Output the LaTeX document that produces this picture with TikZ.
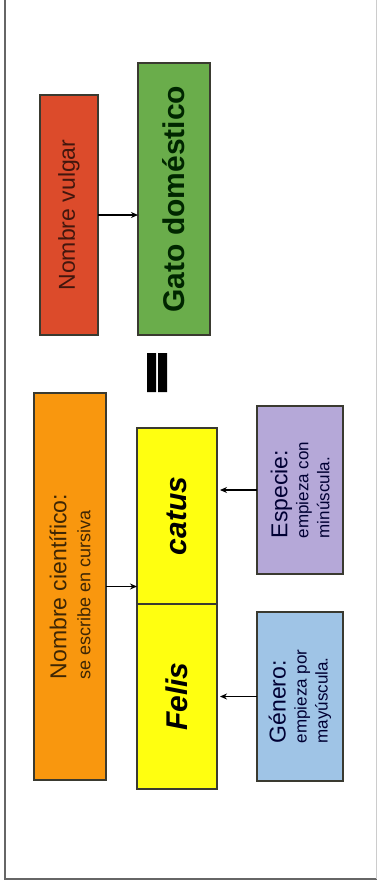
\documentclass[tikz,border=0pt]{standalone}
\usepackage{fontspec}
\setmainfont{Liberation Sans}
\usetikzlibrary{arrows.meta}
\definecolor{cred}{HTML}{DC4B2B}
\definecolor{cgreen}{HTML}{6AAD4B}
\definecolor{corange}{HTML}{F9970E}
\definecolor{cyellow}{HTML}{FFFF10}
\definecolor{cpurple}{HTML}{B5A8D8}
\definecolor{cblue}{HTML}{9FC4E6}
\definecolor{edge}{HTML}{3A3A30}
\newcommand{\fs}[2]{\fontsize{#1}{#2}\selectfont}
\tikzset{
  box/.style={draw=edge, line width=1.4pt, rotate=90, inner sep=0pt, outer sep=0pt, align=left},
  conn/.style={draw=black, line width=1.1pt, -{Stealth[length=7pt,width=6pt]}},
}
\begin{document}
\begin{tikzpicture}[x=1pt,y=-1pt]
\useasboundingbox (0,0) rectangle (377,892);
\fill[white] (0,0) rectangle (377,892);
% frame
\draw[line width=2pt, color=black!60] (5,0) -- (5,879) -- (377,879);
\draw[line width=0.8pt, color=black!20] (376,0) -- (376,879);
% boxes
\node[box, fill=cred, minimum width=240pt, minimum height=58pt, text=cred!30!black, font=\fs{23}{27}] (vulgar) at (69,215) {Nombre vulgar};
\node[box, fill=cgreen, minimum width=272pt, minimum height=72pt, text=black!85!green, font=\fs{30}{34}\bfseries] (gato) at (174,199) {Gato doméstico};
\node[box, fill=corange, minimum width=387pt, minimum height=72pt, text=corange!25!black, font=\fs{18}{24}] (cient) at (70,586.5) {{\fs{23}{27}Nombre científico:}\\se escribe en cursiva};
\node[box, fill=cyellow, minimum width=176pt, minimum height=80pt, text=black, font=\fs{30}{34}\bfseries\itshape] (catus) at (177,516) {catus};
\node[box, fill=cyellow, minimum width=185pt, minimum height=80pt, text=black, font=\fs{30}{34}\bfseries\itshape] (felis) at (177,696.5) {Felis};
\node[box, fill=cpurple, minimum width=168pt, minimum height=86pt, text=blue!20!black, font=\fs{17}{21}] (especie) at (300,490) {{\fs{23}{27}Especie:}\\empieza con\\minúscula.};
\node[box, fill=cblue, minimum width=169pt, minimum height=86pt, text=blue!20!black, font=\fs{17}{21}] (genero) at (300,696.5) {{\fs{23}{27}Género:}\\empieza por\\mayúscula.};
% equals sign
\fill[black] (147,353) rectangle (156,392) (158,353) rectangle (167,392);
% connectors
\draw[conn] (vulgar.south) -- (vulgar.south -| gato.north);
\draw[conn] (cient.south) -- (cient.south -| catus.north);
\draw[conn] (especie.north) -- ([xshift=3pt]especie.north -| catus.south);
\draw[conn] (genero.north) -- ([xshift=3pt]genero.north -| felis.south);
\end{tikzpicture}
\end{document}
